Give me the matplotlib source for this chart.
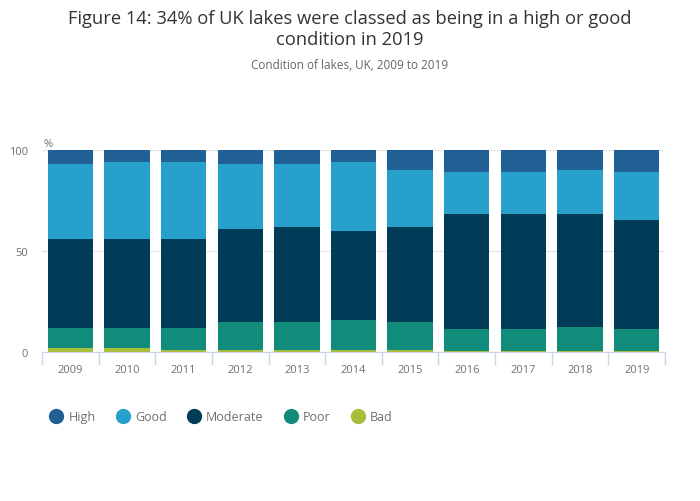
"""Condition of lakes, UK, 2009 to 2019 - stacked bar chart."""

import matplotlib

matplotlib.use("Agg")
import matplotlib.pyplot as plt
import numpy as np
from matplotlib.lines import Line2D

years = ["2009", "2010", "2011", "2012", "2013", "2014", "2015", "2016", "2017", "2018", "2019"]
bad = [2, 2, 1, 1, 1, 1, 1, 0.3, 0.3, 0.3, 0.3]
poor = [10, 10, 11, 14, 14, 15, 14, 11, 11, 12, 11]
moderate = [44, 44, 44, 46, 47, 44, 47, 57, 57, 56, 54]
good = [37, 38, 38, 32, 31, 34, 28, 21, 21, 22, 24]
high = [7, 6, 6, 7, 7, 6, 10, 11, 11, 10, 11]

series = [
    ("Bad", bad, "#a8bd3a"),
    ("Poor", poor, "#118c7b"),
    ("Moderate", moderate, "#003c57"),
    ("Good", good, "#27a0cc"),
    ("High", high, "#206095"),
]

plt.rcParams["font.family"] = ["Open Sans", "DejaVu Sans"]
grey = "#707070"

fig = plt.figure(figsize=(7.0, 5.02), dpi=100)
ax = fig.add_axes([0.06, 0.297, 0.89, 0.402])

x = np.arange(len(years))
bottom = np.zeros(len(years))
for name, values, color in series:
    vals = np.array(values, dtype=float)
    ax.bar(x, vals, bottom=bottom, width=0.8, color=color, label=name, linewidth=0)
    bottom += vals

ax.set_xlim(-0.5, len(years) - 0.5)
ax.set_ylim(0, 100)
ax.set_yticks([0, 50, 100])
ax.set_xticks(x)
ax.set_xticklabels(years)
ax.set_xticks(np.arange(-0.5, len(years)), minor=True)
ax.tick_params(axis="x", which="major", length=0, pad=9, labelsize=8, labelcolor=grey)
ax.tick_params(axis="x", which="minor", length=9, color="#ccd6eb", width=1)
ax.tick_params(axis="y", length=0, pad=10, labelsize=8, labelcolor=grey)
ax.grid(axis="y", color="#e6e6e6", linewidth=1)
ax.set_axisbelow(True)
for side in ("top", "right", "left"):
    ax.spines[side].set_visible(False)
ax.spines["bottom"].set_color("#ccd6eb")
ax.spines["bottom"].set_zorder(5)

ax.text(0.002, 1.003, "%", transform=ax.transAxes, fontsize=8, color=grey, ha="left", va="bottom")

fig.suptitle(
    "Figure 14: 34% of UK lakes were classed as being in a high or good\ncondition in 2019",
    x=0.5, y=0.98, fontsize=13.2, color="#333333", linespacing=1.2,
)
fig.text(0.5, 0.862, "Condition of lakes, UK, 2009 to 2019", ha="center", fontsize=8.5, color="#666666")

handles = [
    Line2D([], [], marker="o", linestyle="none", markersize=10, color=color)
    for _, _, color in reversed(series)
]
labels = [name for name, _, _ in reversed(series)]
fig.legend(
    handles, labels, loc="center left", bbox_to_anchor=(0.055, 0.168), ncol=5,
    frameon=False, fontsize=9, labelcolor=grey, handlelength=1.0, handletextpad=0.5,
    columnspacing=1.65,
)

fig.savefig("out.png", dpi=100)
plt.close(fig)
